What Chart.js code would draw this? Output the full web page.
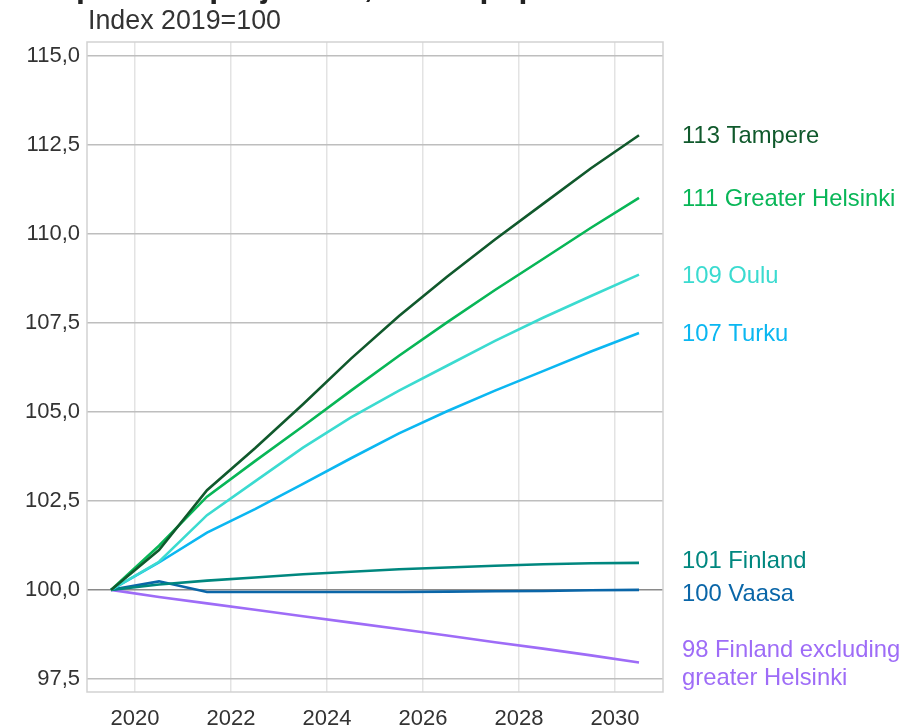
<!DOCTYPE html>
<html>
<head>
<meta charset="utf-8">
<script src="https://cdn.jsdelivr.net/npm/chart.js@4"></script>
<style>
  html, body { margin: 0; padding: 0; background: #fff; }
  #wrap { position: relative; width: 905px; height: 727px; }
</style>
</head>
<body>
<div id="wrap"><canvas id="chart" width="905" height="727"></canvas></div>
<script>
// Population index, 2019 = 100
const years = [2019, 2020, 2021, 2022, 2023, 2024, 2025, 2026, 2027, 2028, 2029, 2030]

const tampere   = [100, 101.12, 102.80, 103.98, 105.22, 106.50, 107.70, 108.80, 109.85, 110.85, 111.85, 112.78]
const helsinki  = [100, 101.24, 102.62, 103.62, 104.60, 105.60, 106.58, 107.52, 108.43, 109.30, 110.18, 111.02]
const oulu      = [100, 100.79, 102.10, 103.05, 104.00, 104.85, 105.60, 106.30, 107.00, 107.65, 108.26, 108.86]
const turku     = [100, 100.77, 101.61, 102.27, 102.98, 103.70, 104.40, 105.02, 105.60, 106.15, 106.70, 107.22]
const finland   = [100, 100.15, 100.26, 100.35, 100.44, 100.51, 100.58, 100.63, 100.68, 100.72, 100.75, 100.76]
const vaasa     = [100, 100.24, 99.94, 99.94, 99.94, 99.94, 99.94, 99.95, 99.96, 99.97, 99.99, 100.00]
const finlandEx = [100, 99.80, 99.62, 99.44, 99.26, 99.08, 98.90, 98.72, 98.53, 98.35, 98.16, 97.96]

const seriesNames = ['Tampere', 'Greater Helsinki', 'Oulu', 'Turku', 'Finland', 'Vaasa', 'Finland excluding greater Helsinki']
const endLabels = [['113 Tampere'], ['111 Greater Helsinki'], ['109 Oulu'], ['107 Turku'], ['101 Finland'], ['100 Vaasa'], ['98 Finland excluding', 'greater Helsinki']]
const seriesColors = ['#10592c', '#08b657', '#3bdbd0', '#0bb7f1', '#00877f', '#0a66a8', '#9e6cf7']

const yTicks = [97.5, 100, 102.5, 105, 107.5, 110, 112.5, 115]
const xTicks = [2020, 2022, 2024, 2026, 2028, 2030]

const FONT = '"Liberation Sans", Arial, sans-serif'

// data sits at mid-year, ticks at year start
const toPoints = (vals) => vals.map((v, i) => ({ x: years[i] + 0.5, y: v }))

const allSeries = [tampere, helsinki, oulu, turku, finland, vaasa, finlandEx]

const datasets = allSeries.map((vals, i) => ({
  label: seriesNames[i],
  data: toPoints(vals),
  borderColor: seriesColors[i],
  backgroundColor: seriesColors[i],
  borderWidth: 2.6,
  pointRadius: 0,
  tension: 0,
  order: i,
}))

const decorations = {
  id: 'decorations',
  beforeDatasetsDraw(chart) {
    const { ctx, chartArea: a } = chart
    ctx.save()
    ctx.strokeStyle = '#d2d2d2'
    ctx.lineWidth = 1.5
    ctx.strokeRect(a.left, a.top, a.right - a.left, a.bottom - a.top)
    ctx.restore()
  },
  afterDraw(chart) {
    const { ctx, scales } = chart
    ctx.save()
    // cut-off title + subtitle
    ctx.fillStyle = '#222'
    ctx.font = 'bold 32px ' + FONT
    ctx.textBaseline = 'alphabetic'
    ctx.fillText('Population projection, urban population', 35, -3)
    ctx.fillStyle = '#333'
    ctx.font = '26.8px ' + FONT
    ctx.textBaseline = 'middle'
    ctx.fillText('Index 2019=100', 88, 22)

    // end labels with simple collision avoidance
    const lineH = 28
    const items = allSeries.map((vals, i) => ({
      i,
      y: scales.y.getPixelForValue(vals[vals.length - 1]),
      h: endLabels[i].length * lineH + 5,
    })).sort((p, q) => p.y - q.y)
    for (let it = 0; it < 20; it++) {
      for (let k = 1; k < items.length; k++) {
        const p = items[k - 1], q = items[k]
        const need = (p.h + q.h) / 2
        const d = q.y - p.y
        if (d < need) {
          const s = (need - d) / 2
          p.y -= s
          q.y += s
        }
      }
    }
    ctx.font = '23.8px ' + FONT
    ctx.textBaseline = 'middle'
    items.forEach(({ i, y }) => {
      const lines = endLabels[i]
      ctx.fillStyle = seriesColors[i]
      const top = y + 1.5 - (lines.length - 1) * lineH / 2
      lines.forEach((t, j) => ctx.fillText(t, 682, top + j * lineH))
    })
    ctx.restore()
  }
}

new Chart(document.getElementById('chart'), {
  type: 'line',
  data: { datasets },
  options: {
    responsive: false,
    animation: false,
    layout: { padding: { top: 42, right: 242, left: 0, bottom: 0 } },
    plugins: {
      legend: { display: false },
      tooltip: { enabled: false },
    },
    scales: {
      x: {
        type: 'linear',
        min: 2019,
        max: 2031,
        afterBuildTicks: (axis) => { axis.ticks = xTicks.map(v => ({ value: v })) },
        afterFit: (axis) => { axis.height = 35 },
        grid: { color: '#e3e3e3', lineWidth: 1.5, drawTicks: false },
        border: { display: false },
        ticks: {
          color: '#333',
          font: { family: FONT, size: 22 },
          padding: 14,
          maxRotation: 0,
          callback: (v) => String(v),
        },
      },
      y: {
        type: 'linear',
        min: 97.13,
        max: 115.4,
        afterBuildTicks: (axis) => { axis.ticks = yTicks.map(v => ({ value: v })) },
        afterFit: (axis) => { axis.width = 87 },
        grid: {
          color: (c) => c.tick && c.tick.value === 100 ? '#8a8a8a' : '#bebebe',
          lineWidth: 1.5,
          drawTicks: false,
        },
        border: { display: false },
        ticks: {
          color: '#333',
          font: { family: FONT, size: 22 },
          padding: 7,
          callback: (v) => v.toFixed(1).replace('.', ','),
        },
      },
    },
  },
  plugins: [decorations],
})
</script>
</body>
</html>
